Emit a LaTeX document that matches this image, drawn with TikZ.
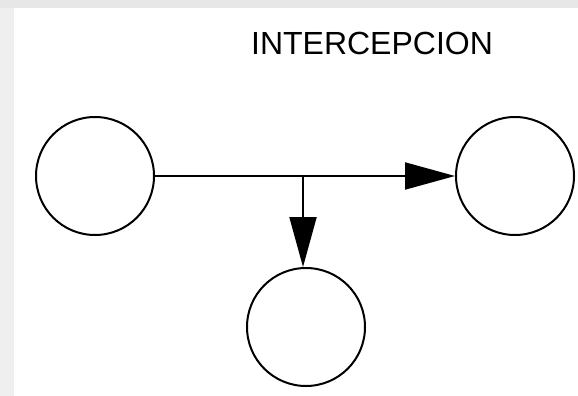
\documentclass[tikz,border=0pt]{standalone}
\usepackage{fontspec}
\setmainfont{Liberation Sans}
\usetikzlibrary{arrows.meta,positioning}
\definecolor{edgegray}{RGB}{239,239,239}
\definecolor{topgray}{RGB}{231,231,231}
\tikzstyle{place}=[circle,line width=2pt,draw=black,fill=white,minimum size=118pt,inner sep=0pt]
\tikzstyle{flow}=[line width=2pt,-{Triangle[length=50pt,width=27pt]}]
\tikzstyle{title}=[font=\fontsize{32}{36}\selectfont,anchor=base,inner sep=0pt]

\begin{document}
\begin{tikzpicture}[x=1pt,y=-1pt]
            % background
            \fill[edgegray] (0,0) rectangle (578,396);
            \fill[topgray] (0,0) rectangle (578,8);
            \fill[white] (14,8) rectangle (578,396);
            \useasboundingbox (0,0) rectangle (578,396);

            \node[title] (t1) at (372,55) {INTERCEPCION};

            % places
            \node[place] (p1) at (95,176) {};
            \node[place, right=300pt of p1] (p2) {};
            \coordinate[right=148pt of p1] (j1);
            \node[place, below=91pt of j1, xshift=3pt] (p3) {};

            % connections
            \draw[flow] (p1) -- (p2);
            \draw[flow] (j1) -- (j1 |- p3.north);

        \end{tikzpicture}
\end{document}
